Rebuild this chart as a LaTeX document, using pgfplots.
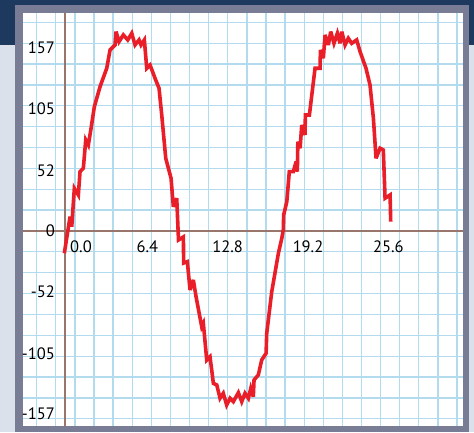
\documentclass[border=0pt]{standalone}
\usepackage{pgfplots}
\pgfplotsset{compat=1.18}
\usepackage{fontspec}
\setmainfont{PT Sans}
\definecolor{navy}{RGB}{29,58,94}
\definecolor{bglight}{RGB}{218,225,235}
\definecolor{framegray}{RGB}{120,124,148}
\definecolor{gridblue}{RGB}{178,220,237}
\definecolor{axbrown}{RGB}{152,118,108}
\definecolor{curvered}{RGB}{234,30,40}
\begin{document}
\begin{tikzpicture}[x=1pt,y=1pt]
\useasboundingbox (0,0) rectangle (474,432);
\fill[bglight] (0,0) rectangle (474,432);
\fill[navy] (0,387) rectangle (474,432);
\fill[framegray] (15,0) rectangle (469,427);
\fill[white] (22.5,6) rectangle (463,419);
\begin{axis}[
  at={(22.5pt,6pt)}, anchor=south west,
  scale only axis, width=440.5pt, height=413pt,
  xmin=-3.39, xmax=31.71, ymin=-167.3, ymax=187.0,
  axis lines=middle,
  axis line style={-, draw=axbrown, line width=1.4pt},
  hide obscured x ticks=false, hide obscured y ticks=false,
  xtick={6.4,12.8,19.2,25.6},
  xticklabels={6.4,12.8,19.2,25.6},
  extra x ticks={0},
  extra x tick labels={0.0},
  extra x tick style={xticklabel style={anchor=north west, xshift=3pt}},
  ytick={-157,-105,-52,0,52,105,157},
  yticklabels={-157,-105,-52,0,52,105,157},
  major tick length=0pt, minor tick length=0pt,
  minor xtick={-2.255,-0.733,0.789,2.311,3.833,5.355,6.877,8.399,9.921,11.443,12.965,14.487,16.009,17.531,19.053,20.575,22.097,23.619,25.141,26.663,28.185,29.707,31.229},
  minor ytick={-161.1,-143.2,-125.3,-107.4,-89.5,-71.6,-53.7,-35.8,-17.9,0,17.9,35.8,53.7,71.6,89.5,107.4,125.3,143.2,161.1,179.0},
  xminorgrids=true, yminorgrids=true,
  minor grid style={draw=gridblue, line width=1.3pt},
  tick label style={font=\fontsize{16.5}{19}\selectfont, text=black, inner sep=0pt},
  /pgf/number format/assume math mode=true,
  xticklabel style={anchor=north, yshift=-10pt, xshift=2pt},
  yticklabel style={anchor=east, xshift=-10pt},
  clip=false,
]
\addplot[curvered, line width=3.6pt, line join=miter, miter limit=4, mark=none] coordinates {
(-0.056,-19.1) (0.398,12.3) (0.534,3.7) (0.741,36.6) (1.060,30.9) (1.195,50.9)
(1.458,53.8) (1.649,78.1) (1.857,73.8) (2.072,88.1) (2.335,106.6) (2.789,123.8)
(3.323,139.6) (3.586,155.3) (3.984,159.6) (4.064,171.0) (4.303,162.4) (4.645,168.2)
(4.996,163.9) (5.315,169.6) (5.578,159.6) (5.896,163.9) (6.056,159.6) (6.319,163.9)
(6.510,139.6) (6.773,142.4) (7.171,131.0) (7.490,122.4) (7.705,99.5) (8.024,62.4)
(8.446,45.2) (8.629,20.8) (8.900,28.1) (9.04,-7.7) (9.43,-5.1) (9.45,-27.5)
(9.745,-26.3) (9.96,-50.6) (10.22,-42.0) (10.44,-56.4) (10.89,-82.1) (11.02,-79.2)
(11.29,-110.7) (11.55,-107.8) (11.82,-130.7) (12.09,-132.1) (12.35,-143.5) (12.61,-139.2)
(12.88,-149.3) (13.15,-143.5) (13.41,-146.4) (13.81,-138.7) (14.08,-146.4) (14.34,-139.2)
(14.61,-143.5) (14.80,-135.0) (15.00,-142.2) (15.06,-127.8) (15.40,-123.5) (15.67,-110.7)
(16.02,-104.9) (16.07,-87.8) (16.47,-52.1) (17.00,-19.1) (17.27,-6.3) (17.39,0.9)
(17.42,13.7) (17.67,25.1) (17.87,50.9) (18.19,50.9) (18.41,59.5) (18.51,50.9)
(18.55,76.6) (18.73,71.0) (18.86,90.9) (19.12,82.4) (19.15,99.5) (19.47,99.5)
(19.92,139.6) (20.32,139.6) (20.35,155.3) (20.58,148.2) (20.72,168.2) (20.98,159.6)
(21.17,171.0) (21.43,161.0) (21.70,169.6) (21.91,161.0) (22.05,171.0) (22.31,159.6)
(22.57,165.3) (22.84,161.0) (23.24,163.9) (23.51,153.8) (23.98,139.6) (24.30,125.3)
(24.57,96.7) (24.78,62.4) (25.10,71.0) (25.36,69.5) (25.50,28.1) (25.90,30.9)
(25.95,8.0)
};
\end{axis}
\end{tikzpicture}
\end{document}
